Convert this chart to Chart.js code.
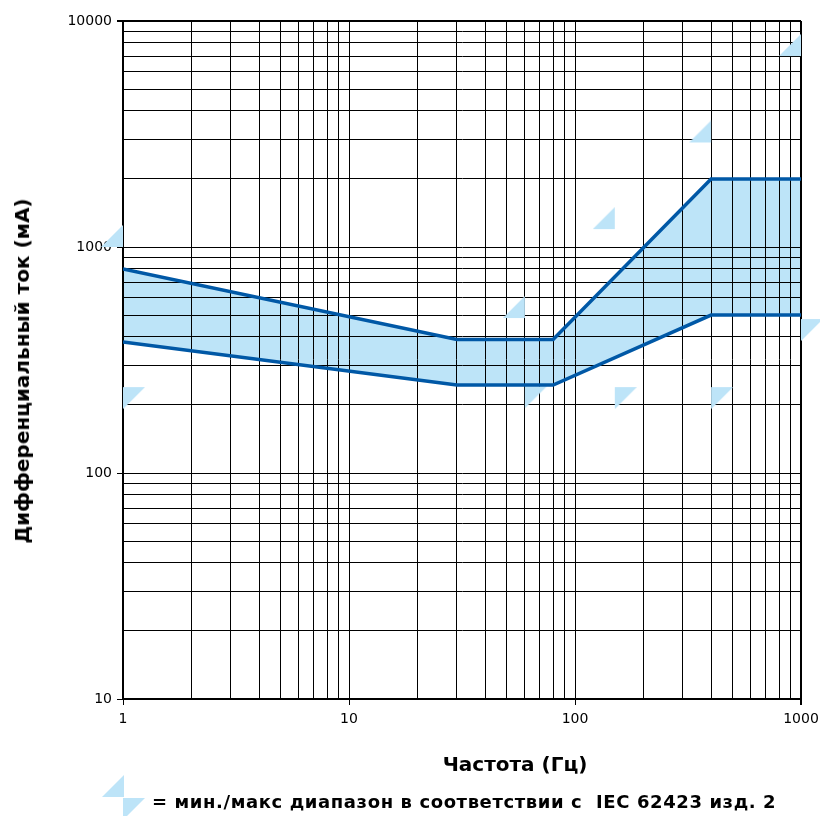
<!DOCTYPE html>
<html>
<head>
<meta charset="utf-8">
<script src="https://cdn.jsdelivr.net/npm/chart.js@4.4.0/dist/chart.umd.min.js"></script>
<style>
body { margin: 0; background: #fff; }
.wrap { position: relative; width: 820px; height: 816px; overflow: hidden; }
.wrap canvas { position: absolute; left: 0; top: 0; }
.label { position: absolute; white-space: pre; color: #000; font-family: "DejaVu Sans", sans-serif; font-weight: bold; }
#yTitle { left: 22px; top: 371px; font-size: 20px; transform: translate(-50%, -50%) rotate(-90deg); }
#xTitle { left: 515px; top: 764px; font-size: 20px; transform: translate(-50%, -50%); }
#legendText { left: 152px; top: 801px; font-size: 18px; letter-spacing: 0.6px; transform: translateY(-50%); }
.tri { position: absolute; width: 22px; height: 22px; background: #bde4f8; }
.tri.max { left: 102px; top: 775px; clip-path: polygon(0 100%, 100% 100%, 100% 0); }
.tri.min { left: 123px; top: 798px; clip-path: polygon(0 0, 100% 0, 0 100%); }
</style>
</head>
<body>
<div class="wrap">
    <canvas id="chart" width="820" height="816"></canvas>
    <div class="label" id="yTitle">Дифференциальный ток (мА)</div>
    <div class="label" id="xTitle">Частота (Гц)</div>
    <div class="tri max"></div>
    <div class="tri min"></div>
    <div class="label" id="legendText">= мин./макс диапазон в соответствии с  IEC 62423 изд. 2</div>
</div>
<script>
// band of the device (frequency in Hz, current in mA)
const freq = [1, 30, 80, 400, 1000];
const upperMa = [800, 390, 390, 2000, 2000];
const lowerMa = [380, 245, 245, 500, 500];

// IEC 62423 min / max markers
const iecFreq = [1, 60, 150, 400, 1000];
const iecMax = [1000, 485, 1200, 2900, 7000];
const iecMin = [240, 242, 240, 240, 480];

// grid / ticks
const xTickValues = [1, 2, 3, 4, 5, 6, 7, 8, 9, 10, 20, 30, 40, 50, 60, 70, 80, 90,
    100, 200, 300, 400, 500, 600, 700, 800, 900, 1000];
const yTickValues = [10, 20, 30, 40, 50, 60, 70, 80, 90, 100, 200, 300, 400, 500, 600, 700, 800, 900,
    1000, 2000, 3000, 4000, 5000, 6000, 7000, 8000, 9000, 10000];
const xLabels = [1, 10, 100, 1000];
const yLabels = [10, 100, 1000, 10000];

const lineBlue = '#0058a6';
const lightBlue = '#bde4f8';
const tickFont = { family: '"DejaVu Sans", sans-serif', size: 14 };

function toPoints(xs, ys) {
    return xs.map((x, i) => ({ x: x, y: ys[i] }));
}

// the right-angle corner of the triangle sits on the point
function makeTriangle(kind) {
    const c = document.createElement('canvas');
    c.width = 44;
    c.height = 44;
    const g = c.getContext('2d');
    g.fillStyle = lightBlue;
    g.beginPath();
    if (kind === 'max') {
        g.moveTo(0, 22); g.lineTo(22, 22); g.lineTo(22, 0);
    } else {
        g.moveTo(22, 22); g.lineTo(44, 22); g.lineTo(22, 44);
    }
    g.closePath();
    g.fill();
    return c;
}

function setTicks(values, labels) {
    return function(scale) {
        scale.ticks = values.map(v => ({ value: v, major: labels.includes(v) }));
    };
}

const tickColor = c => (c.tick && c.tick.major) ? '#000' : 'rgba(0,0,0,0)';
// outer frame (top and right edge) a bit heavier
const gridWidth = last => (c => (c.tick && c.tick.value === last) ? 2 : 1);

const ctx = document.getElementById('chart').getContext('2d');
new Chart(ctx, {
    type: 'line',
    data: {
        datasets: [{
            label: 'upper',
            data: toPoints(freq, upperMa),
            borderColor: lineBlue,
            borderWidth: 3.5,
            pointRadius: 0,
            tension: 0,
            backgroundColor: lightBlue,
            fill: '+1'   // band down to the lower curve, drawn under the grid
        }, {
            label: 'lower',
            data: toPoints(freq, lowerMa),
            borderColor: lineBlue,
            borderWidth: 3.5,
            pointRadius: 0,
            tension: 0,
            fill: false
        }, {
            type: 'scatter',
            label: 'IEC max',
            data: toPoints(iecFreq, iecMax),
            pointStyle: makeTriangle('max'),
            pointRadius: 11,
            clip: false
        }, {
            type: 'scatter',
            label: 'IEC min',
            data: toPoints(iecFreq, iecMin),
            pointStyle: makeTriangle('min'),
            pointRadius: 11,
            clip: false
        }]
    },
    options: {
        responsive: false,
        animation: false,
        events: [],
        layout: { padding: { top: 21, right: 19, left: 0, bottom: 0 } },
        plugins: {
            legend: { display: false },
            tooltip: { enabled: false },
            filler: { drawTime: 'beforeDraw' }
        },
        scales: {
            x: {
                type: 'logarithmic',
                min: 1,
                max: 1000,
                afterBuildTicks: setTicks(xTickValues, xLabels),
                afterFit: function(scale) {
                    scale.height = 117;
                    scale.paddingLeft = 0;
                    scale.paddingRight = 0;
                },
                border: { display: true, color: '#000', width: 2 },
                grid: { color: '#000', lineWidth: gridWidth(1000), tickLength: 6, tickColor: tickColor },
                ticks: {
                    autoSkip: false,
                    maxRotation: 0,
                    padding: 6,
                    color: '#000',
                    font: tickFont,
                    callback: v => xLabels.includes(v) ? String(v) : ''
                }
            },
            y: {
                type: 'logarithmic',
                min: 10,
                max: 10000,
                afterBuildTicks: setTicks(yTickValues, yLabels),
                afterFit: function(scale) {
                    scale.width = 123;
                    scale.paddingTop = 0;
                    scale.paddingBottom = 0;
                },
                border: { display: true, color: '#000', width: 2 },
                grid: { color: '#000', lineWidth: gridWidth(10000), tickLength: 6, tickColor: tickColor },
                ticks: {
                    autoSkip: false,
                    padding: 5,
                    color: '#000',
                    font: tickFont,
                    callback: v => yLabels.includes(v) ? String(v) : ''
                }
            }
        }
    }
});
</script>
</body>
</html>
